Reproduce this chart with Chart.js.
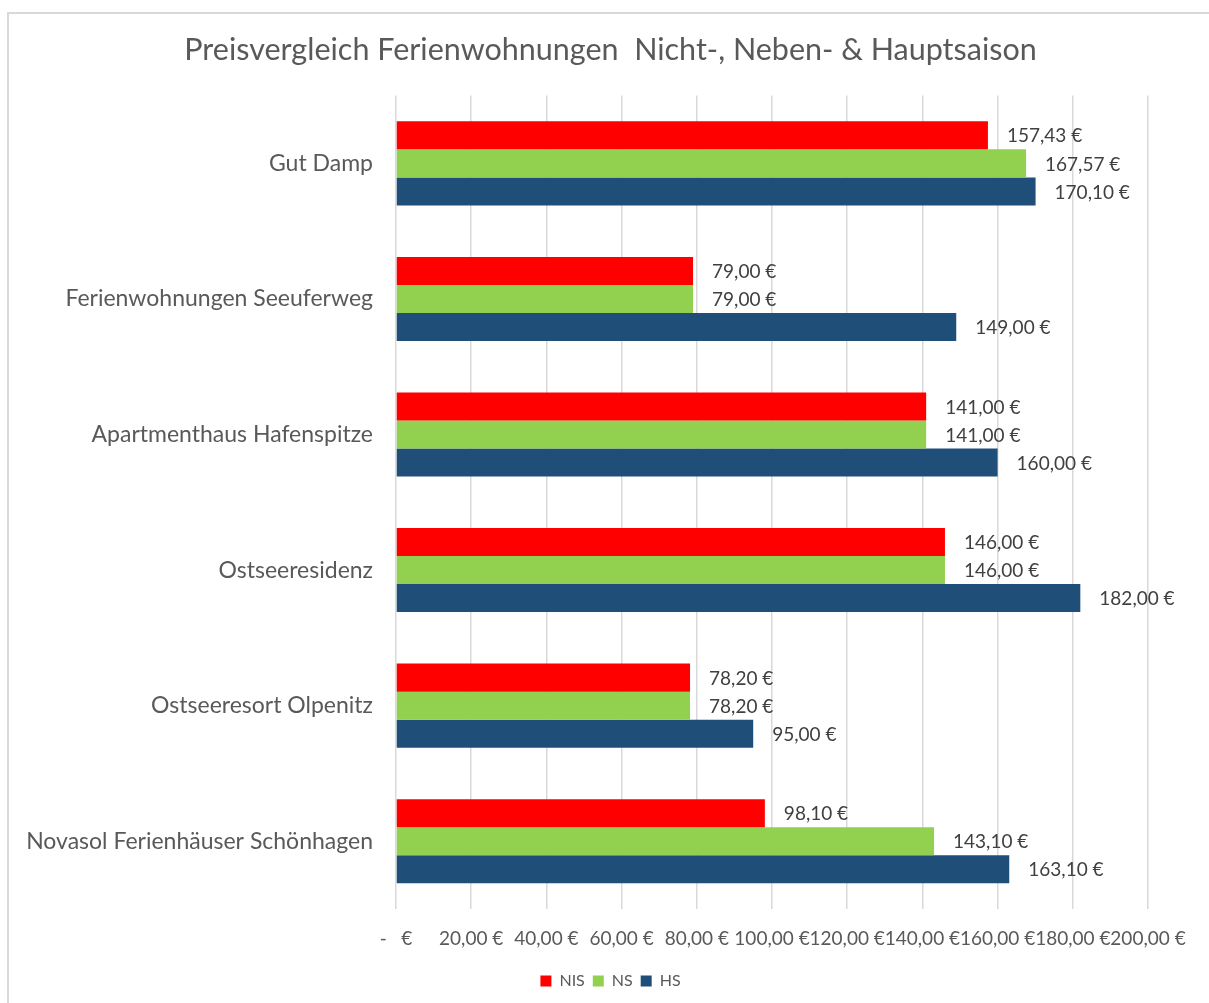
<!DOCTYPE html>
<html>
<head>
<meta charset="utf-8">
<script src="https://cdn.jsdelivr.net/npm/chart.js@4/dist/chart.umd.min.js"></script>
<style>
    html, body { margin: 0; padding: 0; background: #fff; overflow: hidden; }
    .frame {
        position: absolute; left: 7px; top: 12px; width: 1220px; height: 1010px;
        border-left: 2px solid #d9d9d9; border-top: 2px solid #d9d9d9;
    }
    .wrap { position: absolute; left: 0; top: 0; width: 1209px; height: 1003px; }
</style>
</head>
<body>
<div class="frame"></div>
<div class="wrap"><canvas id="chart" width="1209" height="1003"></canvas></div>
<script>
// Werte
const objects = [
    'Gut Damp',
    'Ferienwohnungen Seeuferweg',
    'Apartmenthaus Hafenspitze',
    'Ostseeresidenz',
    'Ostseeresort Olpenitz',
    'Novasol Ferienhäuser Schönhagen'
];
const nisPrices = [157.43, 79.00, 141.00, 146.00, 78.20, 98.10];
const nsPrices = [167.57, 79.00, 141.00, 146.00, 78.20, 143.10];
const hsPrices = [170.10, 149.00, 160.00, 182.00, 95.00, 163.10];
const xTicks = [0, 20, 40, 60, 80, 100, 120, 140, 160, 180, 200];

const FONT = 'Lato, "Open Sans", sans-serif';
const TEXT = '#595959';

function euro(v) {
    if (v === 0) return '-   €';
    return v.toFixed(2).replace('.', ',') + ' €';
}

// value labels at the end of each bar
const barLabels = {
    id: 'barLabels',
    afterDatasetsDraw(chart) {
        const ctx = chart.ctx;
        ctx.save();
        ctx.font = '19px ' + FONT;
        ctx.fillStyle = '#404040';
        ctx.textAlign = 'left';
        ctx.textBaseline = 'middle';
        chart.data.datasets.forEach((ds, i) => {
            chart.getDatasetMeta(i).data.forEach((bar, j) => {
                ctx.fillText(euro(ds.data[j]), bar.x + 19, bar.y + 1);
            });
        });
        ctx.restore();
    }
};

new Chart(document.getElementById('chart'), {
    type: 'bar',
    data: {
        labels: objects,
        datasets: [
            { label: 'NIS', data: nisPrices, backgroundColor: '#ff0000' },
            { label: 'NS', data: nsPrices, backgroundColor: '#92d050' },
            { label: 'HS', data: hsPrices, backgroundColor: '#1f4e79' }
        ]
    },
    options: {
        indexAxis: 'y',
        responsive: false,
        animation: false,
        events: [],
        categoryPercentage: 0.62,
        barPercentage: 1.0,
        layout: { padding: { top: 10, right: 0, bottom: 4, left: 12 } },
        plugins: {
            title: {
                display: true,
                text: 'Preisvergleich Ferienwohnungen  Nicht-, Neben- & Hauptsaison',
                color: TEXT,
                font: { family: FONT, size: 30.5, weight: 'normal' },
                padding: { top: 22, bottom: 27 }
            },
            legend: {
                position: 'bottom',
                labels: {
                    color: TEXT,
                    font: { family: FONT, size: 16 },
                    boxWidth: 11,
                    boxHeight: 11,
                    padding: 8
                }
            },
            tooltip: { enabled: false }
        },
        scales: {
            x: {
                min: 0,
                max: 200,
                afterBuildTicks(scale) {
                    scale.ticks = xTicks.map(v => ({ value: v }));
                },
                afterFit(scale) {
                    scale.height = 56;
                    scale.paddingRight = 61;
                },
                ticks: {
                    autoSkip: false,
                    maxRotation: 0,
                    color: TEXT,
                    font: { family: FONT, size: 19 },
                    padding: 18,
                    callback: v => euro(v)
                },
                grid: { color: '#d9d9d9', lineWidth: 1.5, drawTicks: false },
                border: { display: false }
            },
            y: {
                afterFit(scale) { scale.width = 384; },
                ticks: {
                    color: TEXT,
                    font: { family: FONT, size: 23 },
                    padding: 15
                },
                grid: { display: false },
                border: { display: false }
            }
        }
    },
    plugins: [barLabels]
});
</script>
</body>
</html>
